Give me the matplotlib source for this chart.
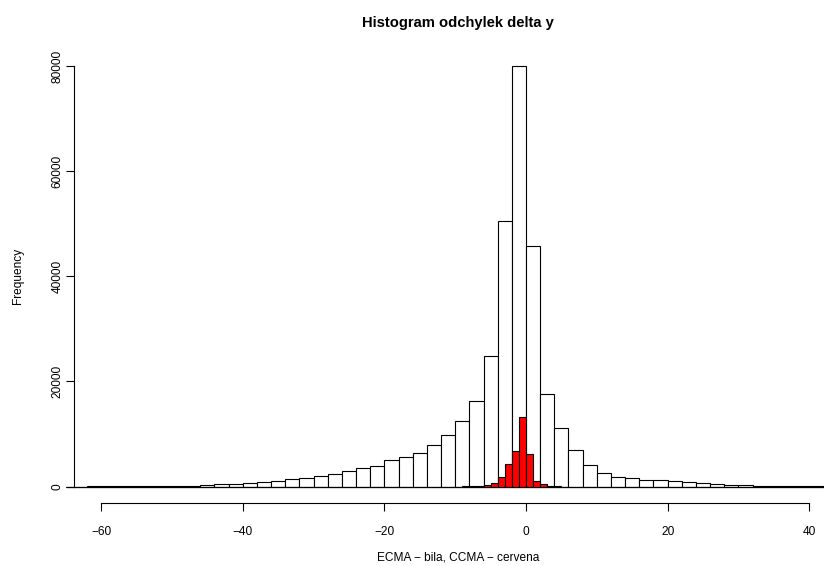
import numpy as np
import matplotlib
matplotlib.use("Agg")
import matplotlib.pyplot as plt

plt.rcParams['font.family'] = ['Liberation Sans', 'DejaVu Sans']

# ECMA (white) - bins of width 2, from -64 to 44
ecma_edges = np.arange(-64, 46, 2)
ecma_counts = [0, 10, 15, 20, 30, 45, 60, 100, 170, 280,
               420, 560, 700, 900, 1100, 1350, 1650, 1950, 2410, 2920,
               3430, 3870, 4950, 5590, 6350, 7940, 9840, 12510, 16190, 24900,
               50500, 80000, 45700, 17530, 11180, 6990, 4060, 2600, 1900, 1590,
               1270, 1210, 1080, 950, 700, 510, 380, 250, 100, 60,
               40, 30, 20, 10]

# CCMA (red) - bins of width 1, from -65 to 45
ccma_edges = np.arange(-65, 46, 1)
ccma_counts = np.zeros(len(ccma_edges) - 1)
ccma_peak = {-9: 30, -8: 50, -7: 100, -6: 200, -5: 600, -4: 1850, -3: 4300,
             -2: 6700, -1: 13200, 0: 6200, 1: 1100, 2: 450, 3: 150, 4: 60}
for k, v in ccma_peak.items():
    ccma_counts[k + 65] = v

xticks = [-60, -40, -20, 0, 20, 40]
yticks = [0, 20000, 40000, 60000, 80000]

W, H = 824, 566
fig = plt.figure(figsize=(W / 100, H / 100), dpi=100)

# pixel mapping
x0, sx = 526.0, 7.08            # px of x=0, px per unit
y0, sy = 486.5, 420.5 / 80000   # px of y=0, px per count
xlim = (-65.5, 45.5)
ylim = (-3200, 83200)
left = x0 + xlim[0] * sx
right = x0 + xlim[1] * sx
bottom = y0 - ylim[0] * sy
top = y0 - ylim[1] * sy
ax = fig.add_axes([left / W, 1 - bottom / H, (right - left) / W, (bottom - top) / H])

ax.bar(ecma_edges[:-1], ecma_counts, width=2, align='edge',
       color='white', edgecolor='black', linewidth=0.8)
ax.bar(ccma_edges[:-1], ccma_counts, width=1, align='edge',
       color='#ff0000', edgecolor='black', linewidth=0.8)
# empty bins still leave their bottom edge, like R's hist
ax.hlines(0, ccma_edges[0], ccma_edges[-1], color='black', linewidth=0.8)

ax.set_xlim(*xlim)
ax.set_ylim(*ylim)

for s in ['top', 'right']:
    ax.spines[s].set_visible(False)
ax.spines['left'].set_position(('data', -63.9))
ax.spines['left'].set_bounds(0, 80000)
ax.spines['bottom'].set_bounds(-60, 40)
ax.spines['left'].set_linewidth(0.8)
ax.spines['bottom'].set_linewidth(0.8)

ax.set_xticks(xticks)
ax.set_yticks(yticks)
ax.set_yticklabels([str(v) for v in yticks], rotation=90, va='center')
ax.tick_params(length=6, width=0.8, labelsize=8.6)
ax.tick_params(axis='x', pad=10.5)
ax.tick_params(axis='y', pad=1)

fig.text(458 / W, 1 - 27 / H, 'Histogram odchylek delta y', ha='center',
         va='baseline', fontsize=10.6, fontweight='bold')
fig.text(458 / W, 1 - 558 / H, 'ECMA \u2212 bila, CCMA \u2212 cervena',
         ha='center', va='center', fontsize=8.6)
fig.text(18 / W, 1 - 276 / H, 'Frequency', ha='center', va='center',
         rotation=90, fontsize=8.6)

fig.savefig('out.png', dpi=100)
